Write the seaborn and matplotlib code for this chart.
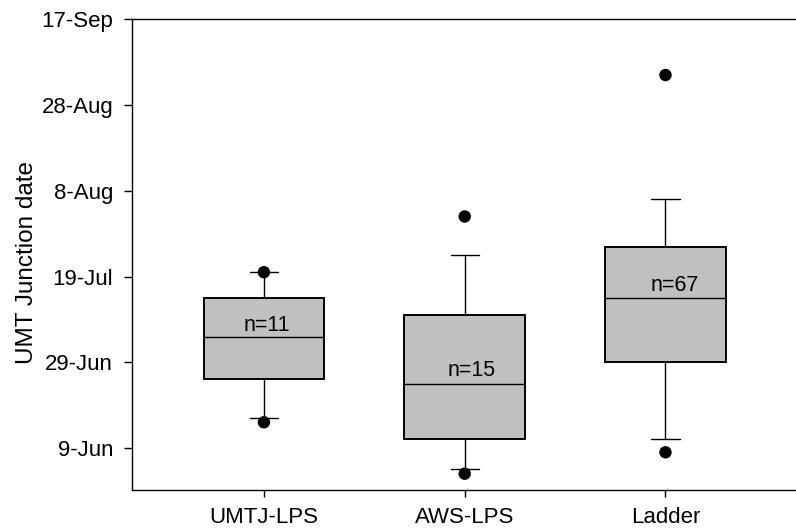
import matplotlib as mpl
mpl.use("Agg")
import matplotlib.pyplot as plt
import numpy as np
import pandas as pd
import seaborn as sns

sns.set_style("ticks")
plt.rcParams["font.family"] = ["Liberation Sans", "DejaVu Sans"]
plt.rcParams["text.color"] = "black"
plt.rcParams["axes.labelcolor"] = "black"
plt.rcParams["xtick.color"] = "black"
plt.rcParams["ytick.color"] = "black"

# data: day of year (9-Jun = 160)
groups = ["UMTJ-LPS", "AWS-LPS", "Ladder"]
counts = [11, 15, 67]
whisk_lo = [167, 155, 162]
q1 = [176, 162, 180]
median = [186, 175, 195]
q3 = [195, 191, 207]
whisk_hi = [201, 205, 218]
outliers = [[166, 201], [154, 214], [159, 247]]

tick_days = [160, 180, 200, 220, 240, 260]
tick_labels = ["9-Jun", "29-Jun", "19-Jul", "8-Aug", "28-Aug", "17-Sep"]

# n= label placement (x shift, baseline day)
label_dx = [0.013, 0.033, 0.047]
label_y = [187.2, 176.7, 196.7]

fig = plt.figure(figsize=(7.96, 5.31), dpi=100)
ax = fig.add_axes([132 / 796, 41 / 531, 664 / 796, 470.7 / 531])

stats = []
for i, g in enumerate(groups):
    stats.append({
        "label": g,
        "whislo": whisk_lo[i],
        "q1": q1[i],
        "med": median[i],
        "q3": q3[i],
        "whishi": whisk_hi[i],
        "fliers": [],
    })

pos = np.arange(len(groups))
ax.bxp(stats, positions=pos, widths=0.6, capwidths=0.14, patch_artist=True,
       showfliers=False, manage_ticks=False,
       boxprops=dict(facecolor="#c0c0c0", edgecolor="black", linewidth=1.4),
       whiskerprops=dict(color="black", linewidth=1.0),
       capprops=dict(color="black", linewidth=1.0),
       medianprops=dict(color="black", linewidth=1.0))

out_df = pd.DataFrame({
    "x": [i for i, o in enumerate(outliers) for _ in o],
    "day": [v for o in outliers for v in o],
})
sns.scatterplot(data=out_df, x="x", y="day", ax=ax, color="black", s=80,
                edgecolor="none", zorder=5, legend=False)

for i, n in enumerate(counts):
    ax.text(pos[i] + label_dx[i], label_y[i], f"n={n}", ha="center",
            va="baseline", fontsize=15.5)

ax.set_xlim(-0.657, 2.65)
ax.set_ylim(150.2, 260)
ax.set_xticks(pos)
ax.set_xticklabels(groups)
ax.set_yticks(tick_days)
ax.set_yticklabels(tick_labels)
ax.tick_params(axis="y", direction="out", length=5.5, width=1.0, pad=8, labelsize=16)
ax.tick_params(axis="x", direction="out", length=5, width=1.0, pad=7, labelsize=16)
ax.set_xlabel("")
ax.set_ylabel("UMT Junction date", fontsize=17.5)
ax.yaxis.set_label_coords(-0.142, 0.483)

for s in ["left", "bottom", "top"]:
    ax.spines[s].set_linewidth(1.0)
    ax.spines[s].set_color("black")
ax.spines["right"].set_visible(False)

fig.savefig("out.png", dpi=100)
